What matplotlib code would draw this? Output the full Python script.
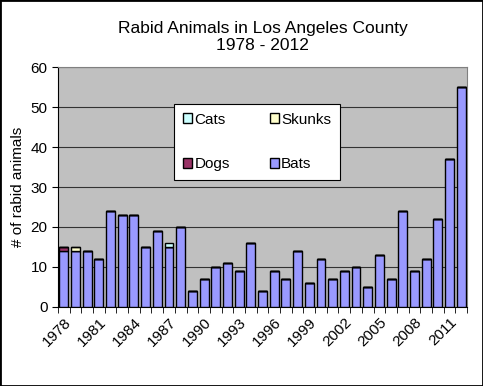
import numpy as np
import matplotlib
matplotlib.use("Agg")
import matplotlib.pyplot as plt
from matplotlib.patches import Rectangle

plt.rcParams['font.family'] = ['Liberation Sans', 'DejaVu Sans']

years = list(range(1978, 2013))
bats = [14, 14, 14, 12, 24, 23, 23, 15, 19, 15, 20, 4, 7, 10, 11, 9, 16, 4,
        9, 7, 14, 6, 12, 7, 9, 10, 5, 13, 7, 24, 9, 12, 22, 37, 55]
dogs = [1] + [0] * 34
skunks = [0, 1] + [0] * 33
cats = [0] * 9 + [1] + [0] * 25

x = np.arange(len(years))
bats = np.array(bats)
dogs = np.array(dogs)
skunks = np.array(skunks)
cats = np.array(cats)

fig = plt.figure(figsize=(4.83, 3.86), dpi=100)
ax = fig.add_axes([0.120, 0.205, 0.847, 0.621])
ax.set_facecolor('#C0C0C0')

w = 0.76
ax.bar(x, bats, w, color='#9999FF', edgecolor='black', linewidth=1, label='Bats', zorder=3)
ax.bar(x, dogs, w, bottom=bats, color='#993366', edgecolor='black', linewidth=1, label='Dogs', zorder=3)
ax.bar(x, skunks, w, bottom=bats + dogs, color='#FFFFCC', edgecolor='black', linewidth=1, label='Skunks', zorder=3)
ax.bar(x, cats, w, bottom=bats + dogs + skunks, color='#CCFFFF', edgecolor='black', linewidth=1, label='Cats', zorder=3)

ax.set_xlim(-0.5, len(years) - 0.5)
ax.set_ylim(0, 60)
ax.set_yticks(range(0, 61, 10))
ax.yaxis.grid(True, color='#333333', linewidth=0.8, zorder=0)
ax.tick_params(axis='y', direction='out', length=4, labelsize=11)

# labels every 3rd year, ticks between categories
ax.set_xticks(x[::3])
ax.set_xticklabels([str(y) for y in years[::3]], rotation=45, ha='right',
                   rotation_mode='anchor', fontsize=11)
ax.tick_params(axis='x', which='major', length=0, pad=6)
ax.set_xticks(np.arange(-0.5, len(years), 1), minor=True)
ax.tick_params(axis='x', which='minor', direction='out', length=4)

for s in ['left', 'bottom']:
    ax.spines[s].set_color('black')
for s in ['top', 'right']:
    ax.spines[s].set_color('#808080')

ax.set_ylabel('# of rabid animals', fontsize=11)
ax.set_title('Rabid Animals in Los Angeles County\n1978 - 2012', fontsize=12.5, pad=12)

h, l = ax.get_legend_handles_labels()
order = [3, 1, 2, 0]  # Cats, Dogs | Skunks, Bats
leg = ax.legend([h[i] for i in order], [l[i] for i in order], ncol=2,
                loc='upper left', bbox_to_anchor=(0.265, 0.88), fontsize=11,
                fancybox=False, framealpha=1, edgecolor='black',
                handlelength=0.6, handleheight=0.6, handletextpad=0.15,
                columnspacing=2.6, labelspacing=2.0, borderpad=0.6)
leg.get_frame().set_linewidth(0.8)

fig.patches.append(Rectangle((0, 0), 1, 1, transform=fig.transFigure,
                             fill=False, edgecolor='black', linewidth=2))

fig.savefig('out.png', dpi=100)
